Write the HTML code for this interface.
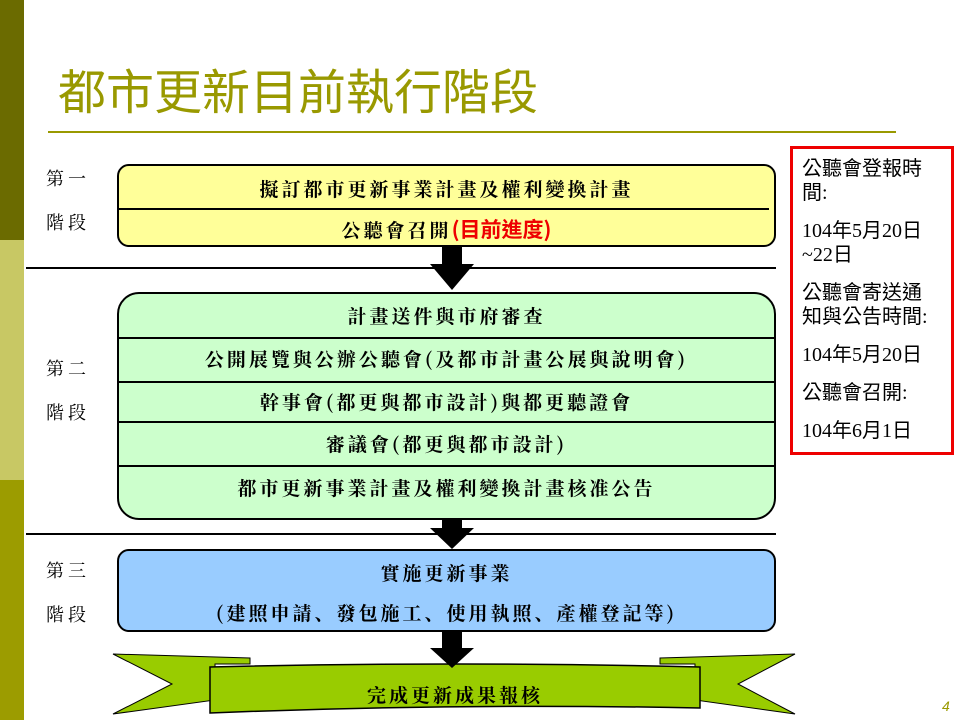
<!DOCTYPE html>
<html><head><meta charset="utf-8"><style>
body{margin:0;width:960px;height:720px;position:relative;overflow:hidden;background:#fff;font-family:"Liberation Serif","Noto Serif CJK SC","Noto Sans CJK TC",serif;}
.a{position:absolute}
.t{position:absolute;left:0;right:0;text-align:center;font-weight:bold;font-size:19px;letter-spacing:3px;color:#000;font-family:"Noto Serif CJK SC",serif}
.hl{position:absolute;left:0;right:0;height:2px;background:#000}
.lab{position:absolute;left:46px;font-size:18px;line-height:44px;letter-spacing:4px;font-family:"Noto Serif CJK SC",serif}
.r div{margin-top:14px}
</style></head><body>
<div class="a" style="left:0;top:0;width:24px;height:240px;background:#6b6b00"></div>
<div class="a" style="left:0;top:240px;width:24px;height:240px;background:#c8c864"></div>
<div class="a" style="left:0;top:480px;width:24px;height:240px;background:#9c9c00"></div>
<div class="a" style="left:58px;top:56px;font-size:48px;color:#999900;font-family:'Noto Sans CJK TC',sans-serif;line-height:64px">都市更新目前執行階段</div>
<div class="a" style="left:48px;top:131px;width:848px;height:2px;background:#999900"></div>

<div class="lab" style="top:156px">第一<br>階段</div>
<div class="lab" style="top:346px">第二<br>階段</div>
<div class="lab" style="top:548px">第三<br>階段</div>

<div class="a" style="left:26px;top:267px;width:750px;height:2px;background:#000"></div>
<div class="a" style="left:26px;top:533px;width:750px;height:2px;background:#000"></div>

<svg class="a" style="left:0;top:0" width="960" height="720">
<polygon points="442,246 462,246 462,264 474,264 452,290 430,264 442,264" fill="#000"/>
<polygon points="442,519 462,519 462,528 474,528 452,549 430,528 442,528" fill="#000"/>
<polygon points="113,654 250,658 250,664 215,664 215,700 113,714 172,684" fill="#99cc00" stroke="#000" stroke-width="1"/>
<polygon points="795,654 660,658 660,664 695,664 695,700 795,714 738,684" fill="#99cc00" stroke="#000" stroke-width="1"/>
<path d="M185,668 Q455,660 532,668 L532,712 Q455,706 185,714 Z" fill="none"/>
<path d="M185,668 L532,668" fill="none"/>
<path d="M185,668 Q350,664 530,668" fill="none"/>
<path d="M187,667 L535,667 L535,712 L187,712 Z" fill="none"/>
<path d="M185,668 L535,668" fill="none"/>
<path d="M200,668 Q450,660 700,668" fill="none"/>
<path d="M187,666 Q455,662 533,666" fill="none"/>
<path d="M200,667 L535,667" fill="none"/>
<path d="M210,667 Q455,661 700,667 L700,708 Q455,703 210,713 Z" fill="#99cc00" stroke="#000" stroke-width="1.5"/>
<polygon points="442,631 462,631 462,648 474,648 452,668 430,648 442,648" fill="#000"/>
</svg>

<div class="a" style="left:117px;top:164px;width:655px;height:79px;background:#ffff99;border:2px solid #000;border-radius:12px">
<div class="t" style="top:9px">擬訂都市更新事業計畫及權利變換計畫</div>
<div class="a" style="left:0;width:650px;top:42px;height:2px;background:#000"></div>
<div class="t" style="top:48px">公聽會召開<span style="color:#e00;font-family:'Noto Sans CJK TC',sans-serif;font-size:21px;letter-spacing:0">(目前進度)</span></div>
</div>

<div class="a" style="left:117px;top:292px;width:655px;height:224px;background:#ccffcc;border:2px solid #000;border-radius:22px;overflow:hidden">
<div class="t" style="top:8px">計畫送件與市府審查</div>
<div class="hl" style="top:43px"></div>
<div class="t" style="top:51px">公開展覽與公辦公聽會(及都市計畫公展與說明會)</div>
<div class="hl" style="top:87px"></div>
<div class="t" style="top:94px">幹事會(都更與都市設計)與都更聽證會</div>
<div class="hl" style="top:127px"></div>
<div class="t" style="top:136px">審議會(都更與都市設計)</div>
<div class="hl" style="top:171px"></div>
<div class="t" style="top:180px">都市更新事業計畫及權利變換計畫核准公告</div>
</div>

<div class="a" style="left:117px;top:549px;width:655px;height:79px;background:#99ccff;border:2px solid #000;border-radius:12px">
<div class="t" style="top:8px">實施更新事業</div>
<div class="t" style="top:48px">(建照申請、發包施工、使用執照、產權登記等)</div>
</div>

<div class="t" style="top:681px;left:210px;right:260px;font-size:19px">完成更新成果報核</div>

<div class="a r" style="left:790px;top:146px;width:164px;height:309px;border:3px solid #e00;font-size:20px;line-height:24px;font-family:'Liberation Serif','Noto Sans CJK TC',serif;padding:0 0 0 9px;box-sizing:border-box">
<div style="width:132px;margin-top:8px">公聽會登報時間:</div>
<div style="width:132px">104年5月20日~22日</div>
<div style="width:132px">公聽會寄送通知與公告時間:</div>
<div>104年5月20日</div>
<div>公聽會召開:</div>
<div>104年6月1日</div>
</div>

<div class="a" style="left:942px;top:698px;font-size:14px;font-style:italic;color:#999900;font-family:'Liberation Sans',sans-serif">4</div>
</body></html>
